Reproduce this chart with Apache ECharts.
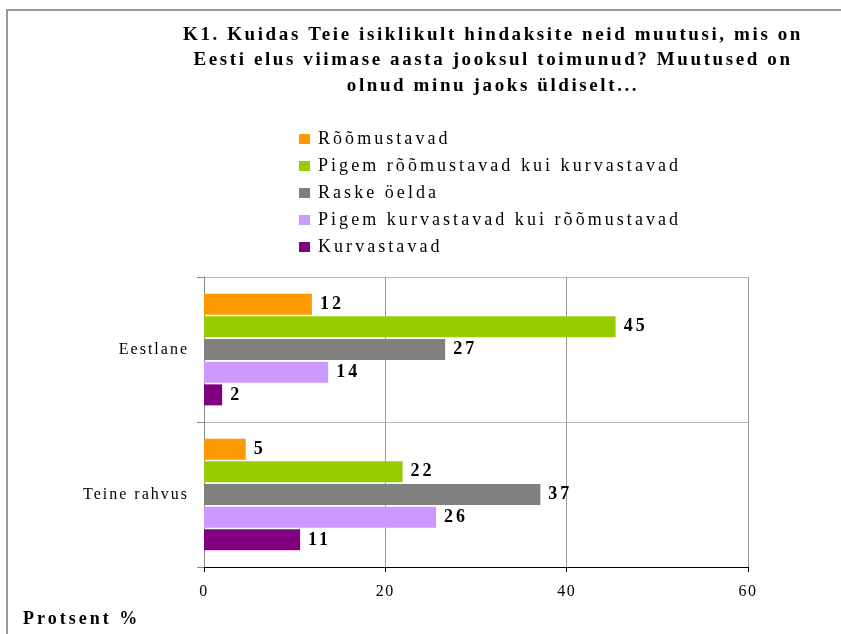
<!DOCTYPE html>
<html>
<head>
<meta charset="utf-8">
<script src="https://cdn.jsdelivr.net/npm/echarts@6/dist/echarts.min.js"></script>
<style>
html,body{margin:0;padding:0;background:#fff;}
#chart{width:841px;height:634px;}
</style>
</head>
<body>
<div id="chart"></div>
<script>
// ---- data ----
const categories = ['Eestlane', 'Teine rahvus'];
const seriesNames = [
  'Rõõmustavad',
  'Pigem rõõmustavad kui kurvastavad',
  'Raske öelda',
  'Pigem kurvastavad kui rõõmustavad',
  'Kurvastavad'
];
const valRoomustavad = [11.9, 4.6];
const valPigemRoom = [45.4, 21.9];
const valRaske = [26.6, 37.1];
const valPigemKurv = [13.7, 25.6];
const valKurv = [2.0, 10.6];
const xTickMin = 0, xTickMax = 60, xTickStep = 20;
const titleText = 'K1. Kuidas Teie isiklikult hindaksite neid muutusi, mis on\nEesti elus viimase aasta jooksul toimunud? Muutused on\nolnud minu jaoks üldiselt...';
const axisNameText = 'Protsent %';

const colors = ['#FF9900', '#99CC00', '#808080', '#CC99FF', '#800080'];
const allValues = [valRoomustavad, valPigemRoom, valRaske, valPigemKurv, valKurv];

// letter spacing per text role (font family tag -> px)
const spacing = { lsTitle: 2.6, lsLeg: 3.05, lsBar: 3, lsX: 1.5, lsCat: 2, lsName: 3 };
const fam = tag => "'Liberation Serif', " + tag + ", serif";

(function () {
  const proto = CanvasRenderingContext2D.prototype;
  const origFill = proto.fillText;
  proto.fillText = function (text, x, y, maxW) {
    const f = this.font || '';
    let ls = 0;
    for (const k in spacing) { if (f.indexOf(k) >= 0) { ls = spacing[k]; break; } }
    if ('letterSpacing' in this) this.letterSpacing = ls + 'px';
    return maxW === undefined ? origFill.call(this, text, x, y) : origFill.call(this, text, x, y, maxW);
  };
})();

const chart = echarts.init(document.getElementById('chart'), null, { renderer: 'canvas' });

const option = {
  animation: false,
  backgroundColor: '#ffffff',
  graphic: [
    { type: 'rect', shape: { x: 7, y: 10, width: 900, height: 700 }, style: { fill: 'none', stroke: '#999999', lineWidth: 2 }, silent: true },
    { type: 'text', left: 23, top: 610, style: { text: axisNameText, font: "bold 18px " + fam('lsName'), fill: '#000' } }
  ],
  title: {
    text: titleText,
    left: 488,
    top: 17,
    textAlign: 'center',
    textStyle: { fontFamily: fam('lsTitle'), fontWeight: 'bold', fontSize: 19, lineHeight: 25.5, color: '#000' }
  },
  legend: {
    orient: 'vertical',
    left: 294,
    top: 125,
    itemWidth: 11,
    itemHeight: 10,
    itemGap: 9,
    icon: 'rect',
    data: seriesNames,
    textStyle: { fontFamily: fam('lsLeg'), fontSize: 18, color: '#000', padding: [0, 0, 0, 3] }
  },
  grid: { left: 204, right: 93, top: 277, bottom: 67, containLabel: false },
  xAxis: {
    type: 'value',
    min: xTickMin, max: xTickMax, interval: xTickStep,
    axisLine: { show: true, lineStyle: { color: '#000', width: 1 } },
    axisTick: { show: true, length: 5, lineStyle: { color: '#000' } },
    axisLabel: { margin: 17, fontFamily: fam('lsX'), fontSize: 16, color: '#000' },
    splitLine: { show: true, lineStyle: { color: '#999', width: 1 } }
  },
  yAxis: {
    type: 'category',
    inverse: true,
    data: categories,
    axisLine: { show: true, lineStyle: { color: '#888', width: 1 } },
    axisTick: { show: true, length: 7, inside: false, lineStyle: { color: '#888' } },
    axisLabel: { margin: 15, fontFamily: fam('lsCat'), fontSize: 16, color: '#000' },
    splitLine: { show: true, lineStyle: { color: '#bbb', width: 1 } }
  },
  series: seriesNames.map((name, i) => ({
    name: name,
    type: 'bar',
    data: allValues[i],
    barWidth: 21,
    barGap: '8%',
    itemStyle: { color: colors[i] },
    label: {
      show: true,
      position: 'right',
      distance: 8,
      formatter: p => String(Math.round(p.value)),
      fontFamily: fam('lsBar'),
      fontWeight: 'bold',
      fontSize: 18,
      color: '#000'
    }
  }))
};

chart.setOption(option);
</script>
</body>
</html>
